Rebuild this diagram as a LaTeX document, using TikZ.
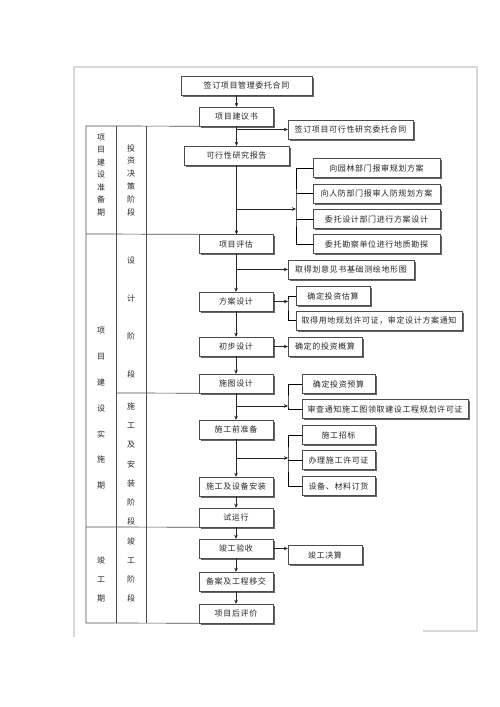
\documentclass[tikz,border=0pt]{standalone}
\usepackage{fontspec}
\newfontfamily\cjk[LetterSpace=8]{Noto Sans CJK SC}
\usetikzlibrary{arrows.meta,shadows}

\begin{document}
\begin{tikzpicture}[x=1pt,y=-1pt,
  box/.style={draw=black!70,fill=white,inner sep=0pt,minimum height=19pt,
    text=black!85,font=\cjk\fontsize{8}{9}\selectfont,
    drop shadow={shadow xshift=1.5pt,shadow yshift=-1.5pt,fill=black!60,opacity=1}},
  main/.style={box,minimum width=74pt},
  side/.style={box,minimum width=#1},
  vlab/.style={align=center,inner sep=0pt,text=black!85,font=\cjk\fontsize{8}{#1}\selectfont},
  arr/.style={-{Stealth[length=4pt,width=3.5pt]},black!85},
  rule/.style={black!70,line width=0.7pt}]
\useasboundingbox (0,0) rectangle (500,707);
% 종이 테두리
\draw[black!15,line width=1.2pt] (74,637) -- (74,67) -- (477,67) -- (477,631) -- (423,631);

% 주 흐름
\node[side=131pt] (sign) at (246.5,85.5) {签订项目管理委托合同};
\node[main] (prop) at (236.5,116.5) {项目建议书};
\node[side=105pt] (feas) at (236.5,155.5) {可行性研究报告};
\node[main] (eval) at (236,244) {项目评估};
\node[main] (scheme) at (236,301.5) {方案设计};
\node[main] (prelim) at (236,346.5) {初步设计};
\node[main] (cdraw) at (236,383.5) {施图设计};
\node[main] (prep) at (236,429.5) {施工前准备};
\node[main] (inst) at (236,486.5) {施工及设备安装};
\node[main] (trial) at (236,517.5) {试运行};
\node[main] (accept) at (236,548.5) {竣工验收};
\node[main] (file) at (236,581.5) {备案及工程移交};
\node[main] (post) at (236,613.5) {项目后评价};

% 오른쪽 상자
\node[side=125pt] (fcon) at (350.5,129.5) {签订项目可行性研究委托合同};
\node[side=127pt] (r1) at (376.5,168) {向园林部门报审规划方案};
\node[side=127pt] (r2) at (376.5,193.5) {向人防部门报审人防规划方案};
\node[side=127pt] (r3) at (376.5,219) {委托设计部门进行方案设计};
\node[side=127pt] (r4) at (376.5,244) {委托勘察单位进行地质勘探};
\node[side=126pt] (topo) at (351,269.5) {取得划意见书基础测绘地形图};
\node[side=74pt] (g1) at (333,296) {确定投资估算};
\node[side=166pt] (g2) at (379,320.5) {取得用地规划许可证，审定设计方案通知};
\node[side=74pt] (h1) at (325,346.5) {确定的投资概算};
\node[side=73pt] (k1) at (338.5,384) {确定投资预算};
\node[side=166pt] (k2) at (385,409) {审查通知施工图领取建设工程规划许可证};
\node[side=73pt] (m1) at (338.5,435) {施工招标};
\node[side=73pt] (m2) at (338.5,460) {办理施工许可证};
\node[side=73pt] (m3) at (338.5,486) {设备、材料订货};
\node[side=74pt] (n1) at (325,555) {竣工决算};

% 세로 화살표
\draw[arr] (sign.south -| prop.north) -- (prop.north);
\draw[arr] (prop.south) -- (prop.south |- feas.north);
\draw[arr] (feas.south) -- (feas.south |- eval.north);
\draw[arr] (eval.south) -- (eval.south |- scheme.north);
\draw[arr] (scheme.south) -- (scheme.south |- prelim.north);
\draw[arr] (prelim.south) -- (prelim.south |- cdraw.north);
\draw[arr] (cdraw.south) -- (cdraw.south |- prep.north);
\draw[arr] (prep.south) -- (prep.south |- inst.north);
\draw[arr] (inst.south) -- (inst.south |- trial.north);
\draw[arr] (trial.south) -- (trial.south |- accept.north);
\draw[arr] (accept.south) -- (accept.south |- file.north);
\draw[arr] (file.south) -- (file.south |- post.north);

% 가지 화살표
\draw[arr] (prop.south |- fcon.west) -- (fcon.west);
\coordinate (j1) at (296,209);
\draw[arr] (feas.south |- j1) -- (j1);
\draw (r1.west) -| (j1) |- (r4.west);
\draw (r2.west -| j1) -- (r2.west);
\draw (r3.west -| j1) -- (r3.west);
\draw[arr] (eval.south |- topo.west) -- (topo.west);
\coordinate (j2) at (288,301.5);
\draw[arr] (scheme.east) -- (j2);
\draw (g1.west) -| (j2) |- (g2.west);
\draw[arr] (prelim.east) -- (h1.west);
\coordinate (j3) at (288,406);
\draw[arr] (cdraw.south |- j3) -- (j3);
\draw (k1.west) -| (j3) |- (k2.west);
\coordinate (j4) at (288,458);
\draw[arr] (prep.south |- j4) -- (j4);
\draw (m1.west) -| (j4) |- (m3.west);
\draw (m2.west -| j4) -- (m2.west);
\draw[arr] (accept.east) -- (accept.east -| n1.west);

% 왼쪽 표
\draw[rule] (prop.south west) -- (86,126) -- (86,623) -- (post.south west);
\draw[rule] (116,126) -- (116,623);
\draw[rule] (146,126) -- (146,623);
\draw[rule] (86,234) -- (eval.north west);
\draw[rule] (116,393) -- (cdraw.south west);
\draw[rule] (86,527) -- (trial.south west);
\node[vlab=12.5] (p1) at (101,175) {项\\目\\建\\设\\准\\备\\期};
\node[vlab=12.8] (s1) at (131,180) {投\\资\\决\\策\\阶\\段};
\node[vlab=25.8] (p2) at (101,408.5) {项\\目\\建\\设\\实\\施\\期};
\node[vlab=38.3] (s2) at (131,317.5) {设\\计\\阶\\段};
\node[vlab=19.3] (s3) at (131,464) {施\\工\\及\\安\\装\\阶\\段};
\node[vlab=19] (p3) at (101,579) {竣\\工\\期};
\node[vlab=19] (s4) at (131,569.5) {竣\\工\\阶\\段};
\end{tikzpicture}
\end{document}
